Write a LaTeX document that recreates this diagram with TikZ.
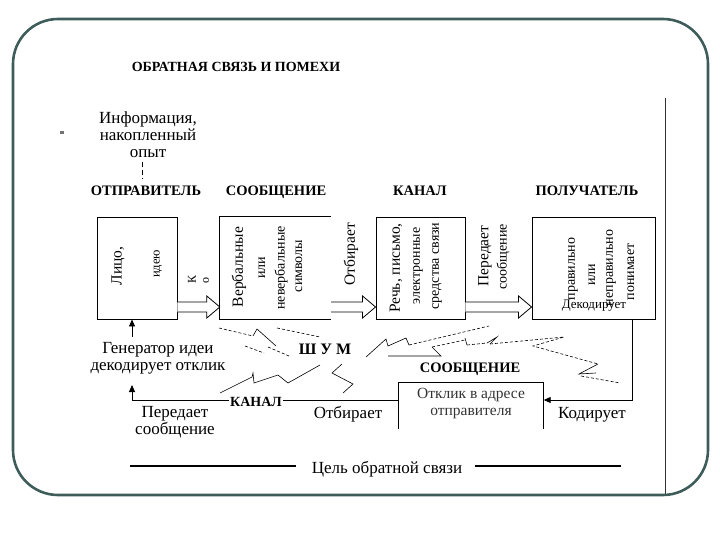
\documentclass[tikz,border=0pt]{standalone}
\usepackage{fontspec}
\setmainfont{Liberation Serif}[BoldFont={Liberation Serif Bold}]
\usetikzlibrary{arrows.meta,calc}
\definecolor{framec}{RGB}{62,92,90}
\tikzset{
  txt/.style={inner sep=0pt, font=\fontsize{17}{17}\selectfont, align=center},
  mid/.style={inner sep=0pt, font=\fontsize{15.5}{17}\selectfont, align=center},
  hdr/.style={inner sep=0pt, anchor=base, font=\fontsize{14.5}{16}\selectfont\bfseries},
  rbig/.style={rotate=90, inner sep=0pt, font=\fontsize{15.5}{16}\selectfont},
  rsml/.style={rotate=90, inner sep=0pt, font=\fontsize{14}{15}\selectfont},
  rtiny/.style={rotate=90, inner sep=0pt, font=\fontsize{12}{13}\selectfont},
  boxn/.style={inner sep=0pt, minimum width=#1},
  boxline/.style={line width=0.9pt, draw=black},
  harrow/.style={draw, fill=white, line width=0.8pt, line join=miter},
  fb/.style={line width=0.9pt},
  tip/.style={-{Triangle[length=7pt,width=6pt]}},
  noise/.style={line width=0.6pt},
  dnoise/.style={line width=0.6pt, dash pattern=on 3pt off 2pt}
}
\begin{document}
\begin{tikzpicture}[x=1pt,y=-1pt]
\useasboundingbox (0,0) rectangle (720,540);
% frame
\draw[framec, line width=2.6pt, rounded corners=45pt] (13,19) rectangle (708,495);
\draw[line width=0.8pt, black!80] (665,98) -- (665,494);
% title
\node[inner sep=0pt, anchor=base, font=\fontsize{14}{16}\selectfont\bfseries] (title) at (236,72) {ОБРАТНАЯ СВЯЗЬ И ПОМЕХИ};
\fill[black!55] (60,131.5) rectangle (64,134.5);
% info
\node[txt] (info) at (148,135) {Информация,\\накопленный\\опыт};
\coordinate (d1) at (142,162);
\coordinate (d2) at (142,179);
\draw[line width=0.7pt, dash pattern=on 5pt off 3pt] (d1) -- (d2);
% headers
\node[hdr] (hS) at (146,196) {ОТПРАВИТЕЛЬ};
\node[hdr] (hM) at (276,196) {СООБЩЕНИЕ};
\node[hdr] (hC) at (420,196) {КАНАЛ};
\node[hdr] (hR) at (587,196) {ПОЛУЧАТЕЛЬ};
% boxes
\node[boxn=80pt, minimum height=102pt, draw, line width=0.9pt] (b1) at (137,268) {};
\node[boxn=111pt, minimum height=102pt] (b2) at (275.5,268) {};
\draw[boxline] (b2.north east) -- (b2.north west) -- (b2.south west) -- (b2.south east);
\node[boxn=89pt, minimum height=102pt, draw, line width=0.9pt] (b3) at (420.5,268) {};
\node[boxn=123pt, minimum height=102pt, draw, line width=0.9pt] (b4) at (593.5,268) {};
% hollow arrows
\foreach \a/\b in {b1/b2, b2/b3, b3/b4}{
  \draw[harrow] let \p1=(\a.east), \p2=(\b.west), \p3=(0,302), \p4=(0,312), \p5=(0,296), \p6=(0,318), \p7=(0,307) in
    (\x1,\y3) -- (\x2-13pt,\y3) -- (\x2-13pt,\y5) -- (\x2,\y7) -- (\x2-13pt,\y6) -- (\x2-13pt,\y4) -- (\x1,\y4);
}
% box texts
\node[rbig] (t11) at (118,266) {Лицо,};
\node[rtiny, font=\fontsize{12.5}{13}\selectfont] (t12) at (158,264) {идею};
\node[rtiny] (k1) at (192,279) {К};
\node[rtiny] (k2) at (206,280) {о};
\node[rbig] (t21) at (239,267) {Вербальные};
\node[rsml] (t22) at (262,268) {или};
\node[rsml] (t23) at (281,268) {невербальные};
\node[rsml] (t24) at (299,266) {символы};
\node[rbig] (o1) at (351,254) {Отбирает};
\node[rbig] (t31) at (396,268) {Речь, письмо,};
\node[rsml] (t32) at (418,266) {электронные};
\node[rsml] (t33) at (437,266) {средства связи};
\node[rbig] (p1) at (485,256) {Передает};
\node[rsml] (p2) at (503,257) {сообщение};
\node[rsml] (t41) at (573,269) {правильно};
\node[rsml] (t42) at (592,275) {или};
\node[rsml] (t43) at (611,268) {неправильно};
\node[rsml] (t44) at (631,272) {понимает};
\node[inner sep=0pt, font=\fontsize{13}{13}\selectfont] (t45) at (594,306) {Декодирует};
% lower part
\node[txt] (gen) at (158,358.5) {Генератор идеи\\декодирует отклик};
\coordinate (g1) at (132,337);
\draw[fb, tip] (g1) -- (b1.south -| g1);
\node[boxn=145pt, minimum height=46pt] (b5) at (471,406) {};
\draw[boxline] (b5.south west) -- (b5.north west) -- (b5.north east) -- (b5.south east);
\node[mid, text=black!80] (otk) at (471,404) {Отклик в адресе\\отправителя};
\coordinate (c1) at (632,400);
\coordinate (c2) at (132,400);
\coordinate (c3) at (132,385);
\draw[fb, tip] (b4.south -| c1) -- (c1) -- (b5.east |- c1);
\draw[fb, tip] (b5.west |- c2) -- (c2) -- (c3);
\node[fill=white, inner sep=1pt, font=\fontsize{14}{16}\selectfont\bfseries] (kan2) at (256,402) {КАНАЛ};
\node[txt] (per2) at (175,422) {Передает\\сообщение};
\node[txt] (otb2) at (348,414.5) {Отбирает};
\node[txt] (kod) at (592,414.5) {Кодирует};
\node[hdr] (soob2) at (470,372) {СООБЩЕНИЕ};
\node[inner sep=0pt, font=\fontsize{16}{16}\selectfont\bfseries] (shum) at (325,349) {Ш У М};
% noise
\draw[dnoise] (219,328) -- (253,336);
\draw[noise] (253,336) -- (257,329) -- (276,346);
\draw[dnoise] (277,328) -- (320,337);
\draw[dnoise] (245,346) -- (264,353);
\draw[dnoise] (268,347) -- (289,356);
\draw[noise] (220,393) -- (252,377) -- (253,373) -- (254,383) -- (278,375) -- (288,383) -- (320,365);
\draw[noise] (342,364) -- (332,373) -- (353,384) -- (343,393);
\draw[noise] (366,357) -- (386,339) -- (388,346) -- (406,338) -- (409,345);
\draw[dnoise] (409,345) -- (489,326);
\draw[noise] (388,356) -- (441,356) -- (432,347);
\draw[dnoise] (432,347) -- (465,340);
\draw[noise] (465,338) -- (467,345);
\draw[dnoise] (467,345) -- (487,343);
\draw[noise] (487,343) -- (497,337) -- (490,344);
\draw[dnoise] (490,344) -- (564,337) -- (533,346) -- (598,364);
\draw[noise] (598,364) -- (579,374) -- (596,373);
\draw[dnoise] (581,376) -- (620,383);
% goal
\node[txt] (goal) at (387,469) {Цель обратной связи};
\coordinate (l1) at (130,466);
\coordinate (l2) at (296,466);
\coordinate (l3) at (475,466);
\coordinate (l4) at (621,466);
\draw[line width=1.3pt] (l1) -- (l2);
\draw[line width=1.3pt] (l3) -- (l4);
\end{tikzpicture}
\end{document}
